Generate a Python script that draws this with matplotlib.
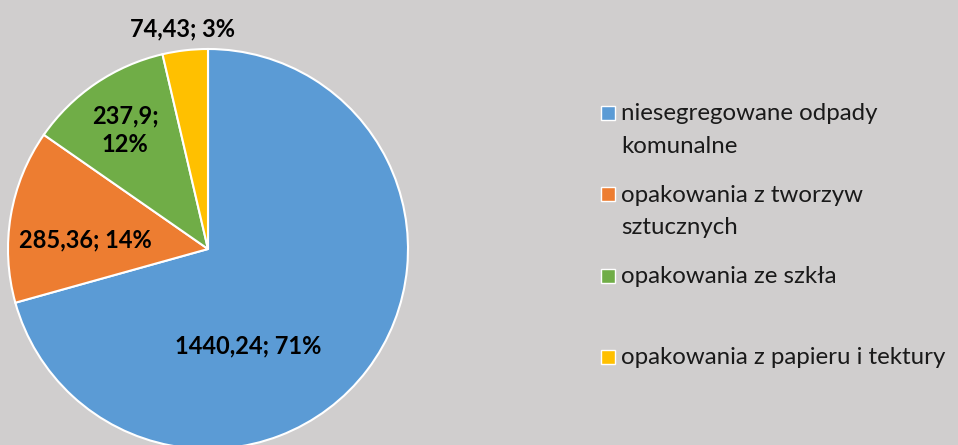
import numpy as np
import matplotlib.pyplot as plt
from matplotlib.patches import Rectangle

# dane
categories = ['niesegregowane odpady\nkomunalne',
              'opakowania z tworzyw\nsztucznych',
              'opakowania ze szkła',
              'opakowania z papieru i tektury']
values = [1440.24, 285.36, 237.9, 74.43]
value_labels = ['1440,24', '285,36', '237,9', '74,43']
pct_labels = ['71%', '14%', '12%', '3%']
colors = ['#5B9BD5', '#ED7D31', '#70AD47', '#FFC000']

# polozenie etykiet (ulamek promienia, przesuniecie kata w stopniach)
label_r = [0.525, 0.615, 0.725, 1.11]
label_shift = [-30.4, 5.6, 0.7, 0.0]
label_wrap = [False, False, True, False]

bg = '#D0CECE'
plt.rcParams['font.family'] = ['Lato', 'DejaVu Sans']

fig = plt.figure(figsize=(9.58, 4.45), dpi=100, facecolor=bg)
ax = fig.add_axes([0, 0, 1, 1])

R = 200
cx, cy = 208, 445 - 249
wedges, _ = ax.pie(values, colors=colors, startangle=90, counterclock=False,
                   radius=R, center=(cx, cy), frame=True,
                   wedgeprops=dict(edgecolor='white', linewidth=1.5))
ax.set_xlim(0, 958)
ax.set_ylim(0, 445)
ax.set_aspect('equal')
ax.axis('off')

for w, vl, pl, r, sh, wrap in zip(wedges, value_labels, pct_labels, label_r, label_shift, label_wrap):
    mid = np.deg2rad((w.theta1 + w.theta2) / 2 + sh)
    sep = '\n' if wrap else ' '
    ax.text(cx + r * R * np.cos(mid), cy + r * R * np.sin(mid), f'{vl};{sep}{pl}',
            ha='center', va='center', fontsize=17, fontweight='bold',
            color='black', linespacing=1.3)

# legenda
y0, step, line_h = 445 - 112.5, 81.5, 33
for i, (cat, c) in enumerate(zip(categories, colors)):
    y = y0 - i * step
    ax.add_patch(Rectangle((601, y - 7), 14, 14, facecolor=c, edgecolor='white', lw=1))
    for k, line in enumerate(cat.split('\n')):
        ax.text(621, y - 7.5 - k * line_h, line, ha='left', va='baseline',
                fontsize=17.3, color='#1a1a1a')

fig.savefig('out.png', dpi=100, facecolor=bg)
